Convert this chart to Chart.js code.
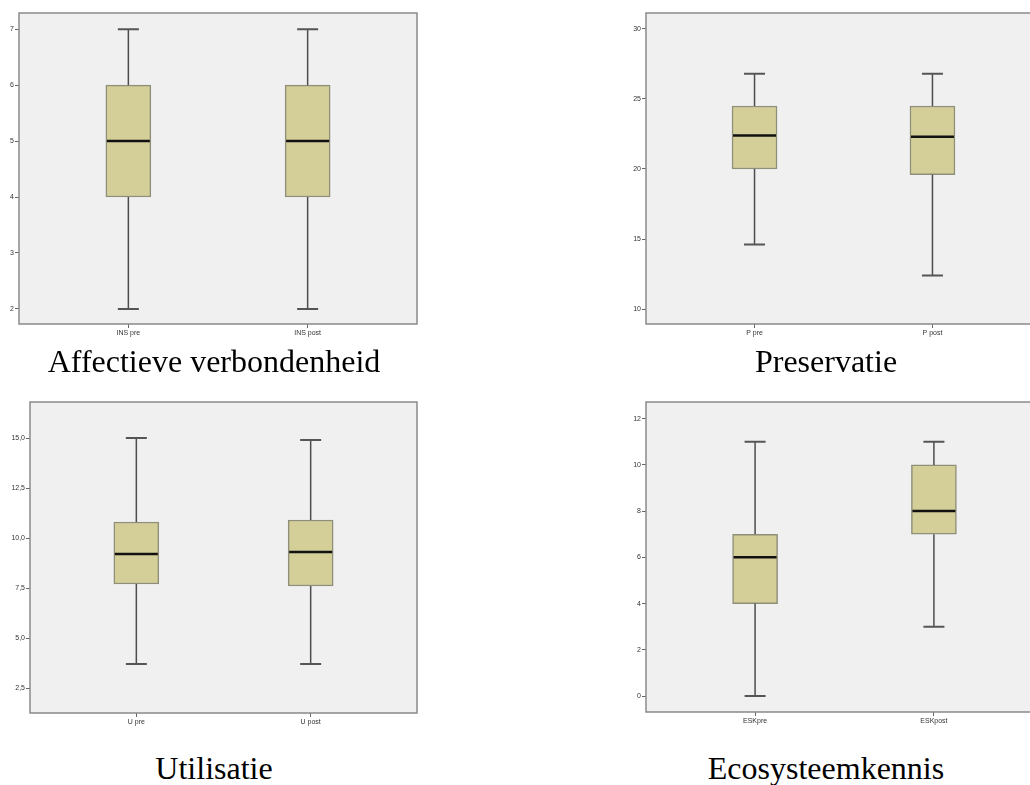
<!DOCTYPE html>
<html>
<head>
<meta charset="utf-8">
<script src="https://cdn.jsdelivr.net/npm/chart.js@4.4.1/dist/chart.umd.min.js"></script>
<style>
  html, body { margin: 0; padding: 0; background: #fff; overflow: hidden; }
  body { width: 1030px; height: 785px; position: relative; }
  canvas { position: absolute; }
  .caption {
    position: absolute;
    font-family: "Liberation Serif", "Times New Roman", serif;
    font-size: 32px;
    line-height: 32px;
    color: #000;
    white-space: nowrap;
    transform: translateX(-50%);
  }
</style>
</head>
<body>
<canvas id="chartIns"></canvas>
<canvas id="chartP"></canvas>
<canvas id="chartU"></canvas>
<canvas id="chartEsk"></canvas>
<div class="caption" style="left:214px; top:345px;">Affectieve verbondenheid</div>
<div class="caption" style="left:826px; top:345px;">Preservatie</div>
<div class="caption" style="left:214px; top:752px;">Utilisatie</div>
<div class="caption" style="left:826px; top:752px;">Ecosysteemkennis</div>

<script>
// Affectieve verbondenheid
const insCategories = ['INS pre', 'INS post'];
const insMin = [2, 2];
const insQ1 = [4, 4];
const insMedian = [5, 5];
const insQ3 = [6, 6];
const insMax = [7, 7];
const insTicks = [2, 3, 4, 5, 6, 7];
const insTickLabels = ['2', '3', '4', '5', '6', '7'];

// Preservatie
const pCategories = ['P pre', 'P post'];
const pMin = [14.6, 12.4];
const pQ1 = [20.0, 19.6];
const pMedian = [22.4, 22.3];
const pQ3 = [24.5, 24.5];
const pMax = [26.8, 26.8];
const pTicks = [10, 15, 20, 25, 30];
const pTickLabels = ['10', '15', '20', '25', '30'];

// Utilisatie
const uCategories = ['U pre', 'U post'];
const uMin = [3.7, 3.7];
const uQ1 = [7.7, 7.6];
const uMedian = [9.2, 9.3];
const uQ3 = [10.8, 10.9];
const uMax = [15.0, 14.9];
const uTicks = [2.5, 5, 7.5, 10, 12.5, 15];
const uTickLabels = ['2,5', '5,0', '7,5', '10,0', '12,5', '15,0'];

// Ecosysteemkennis
const eskCategories = ['ESKpre', 'ESKpost'];
const eskMin = [0, 3];
const eskQ1 = [4, 7];
const eskMedian = [6, 8];
const eskQ3 = [7, 10];
const eskMax = [11, 11];
const eskTicks = [0, 2, 4, 6, 8, 10, 12];
const eskTickLabels = ['0', '2', '4', '6', '8', '10', '12'];

const tickFont = { family: '"Liberation Sans", Arial, sans-serif', size: 7 };

// plot background + frame
const framePlugin = {
    id: 'frame',
    beforeDraw(chart) {
        const a = chart.chartArea;
        const ctx = chart.ctx;
        ctx.save();
        ctx.fillStyle = '#f0f0f0';
        ctx.fillRect(a.left, a.top, a.right - a.left, a.bottom - a.top);
        ctx.restore();
    },
    afterDraw(chart) {
        const a = chart.chartArea;
        const ctx = chart.ctx;
        ctx.save();
        ctx.strokeStyle = '#8a8a8a';
        ctx.lineWidth = 1.5;
        ctx.strokeRect(a.left, a.top, a.right - a.left, a.bottom - a.top);
        ctx.restore();
    }
};

// whiskers, caps and median lines
const whiskerPlugin = {
    id: 'whiskers',
    afterDatasetsDraw(chart) {
        const stats = chart.options.plugins.whiskers;
        const y = chart.scales.y;
        const meta = chart.getDatasetMeta(0);
        const ctx = chart.ctx;
        ctx.save();
        meta.data.forEach(function(bar, i) {
            const x = bar.x;
            const half = bar.width / 2;
            ctx.strokeStyle = '#4d4d4d';
            ctx.lineWidth = 1.5;
            ctx.beginPath();
            ctx.moveTo(x, y.getPixelForValue(stats.max[i]));
            ctx.lineTo(x, y.getPixelForValue(stats.q3[i]));
            ctx.moveTo(x, y.getPixelForValue(stats.q1[i]));
            ctx.lineTo(x, y.getPixelForValue(stats.min[i]));
            ctx.stroke();

            ctx.strokeStyle = '#555';
            ctx.lineWidth = 2;
            ctx.beginPath();
            ctx.moveTo(x - 10.5, y.getPixelForValue(stats.max[i]));
            ctx.lineTo(x + 10.5, y.getPixelForValue(stats.max[i]));
            ctx.moveTo(x - 10.5, y.getPixelForValue(stats.min[i]));
            ctx.lineTo(x + 10.5, y.getPixelForValue(stats.min[i]));
            ctx.stroke();

            ctx.strokeStyle = '#111';
            ctx.lineWidth = 2.5;
            ctx.beginPath();
            ctx.moveTo(x - half + 1, y.getPixelForValue(stats.median[i]));
            ctx.lineTo(x + half - 1, y.getPixelForValue(stats.median[i]));
            ctx.stroke();
        });
        ctx.restore();
    }
};

function makeBoxplot(id, cfg) {
    const canvas = document.getElementById(id);
    const w = cfg.frame.right - cfg.left + 2;
    const h = cfg.frame.bottom - cfg.top + 30;
    canvas.width = w;
    canvas.height = h;
    canvas.style.left = cfg.left + 'px';
    canvas.style.top = cfg.top + 'px';
    canvas.style.width = w + 'px';
    canvas.style.height = h + 'px';

    const boxes = cfg.categories.map(function(c, i) {
        return { x: i + 1, y: [cfg.q1[i], cfg.q3[i]] };
    });

    return new Chart(canvas, {
        type: 'bar',
        data: {
            datasets: [{
                data: boxes,
                backgroundColor: '#d4cf98',
                borderColor: '#8f8e78',
                borderWidth: 1.5,
                borderSkipped: false,
                barThickness: 45
            }]
        },
        options: {
            responsive: false,
            animation: false,
            devicePixelRatio: 1,
            layout: {
                padding: { top: cfg.frame.top - cfg.top, right: 2, left: 0, bottom: 0 }
            },
            scales: {
                x: {
                    type: 'linear',
                    offset: false,
                    min: 0.39,
                    max: 2.61,
                    afterFit: (scale) => { scale.height = 30; },
                    afterBuildTicks: (scale) => {
                        scale.ticks = cfg.categories.map((c, i) => ({ value: i + 1 }));
                    },
                    grid: {
                        offset: false,
                        drawOnChartArea: false,
                        drawTicks: true,
                        tickLength: 4,
                        tickColor: '#666',
                        lineWidth: 1
                    },
                    border: { display: false },
                    ticks: {
                        padding: 1,
                        color: '#333',
                        font: tickFont,
                        maxRotation: 0,
                        callback: (value, index) => cfg.categories[index]
                    }
                },
                y: {
                    min: cfg.yMin,
                    max: cfg.yMax,
                    afterFit: (scale) => { scale.width = cfg.frame.left - cfg.left; },
                    afterBuildTicks: (scale) => {
                        scale.ticks = cfg.ticks.map((v) => ({ value: v }));
                    },
                    grid: {
                        drawOnChartArea: false,
                        drawTicks: true,
                        tickLength: 4,
                        tickColor: '#666',
                        lineWidth: 1
                    },
                    border: { display: false },
                    ticks: {
                        padding: 1,
                        color: '#333',
                        font: tickFont,
                        callback: (value, index) => cfg.tickLabels[index]
                    }
                }
            },
            plugins: {
                legend: { display: false },
                tooltip: { enabled: false },
                whiskers: { min: cfg.min, median: cfg.median, max: cfg.max, q1: cfg.q1, q3: cfg.q3 }
            }
        },
        plugins: [framePlugin, whiskerPlugin]
    });
}

makeBoxplot('chartIns', {
    left: 0, top: 0,
    frame: { left: 19, top: 13, right: 417, bottom: 324 },
    yMin: 1.73, yMax: 7.29,
    categories: insCategories, min: insMin, q1: insQ1, median: insMedian, q3: insQ3, max: insMax,
    ticks: insTicks, tickLabels: insTickLabels
});

makeBoxplot('chartP', {
    left: 600, top: 0,
    frame: { left: 646, top: 13, right: 1041, bottom: 324 },
    yMin: 8.93, yMax: 31.14,
    categories: pCategories, min: pMin, q1: pQ1, median: pMedian, q3: pQ3, max: pMax,
    ticks: pTicks, tickLabels: pTickLabels
});

makeBoxplot('chartU', {
    left: 0, top: 390,
    frame: { left: 30, top: 402, right: 417, bottom: 713 },
    yMin: 1.25, yMax: 16.8,
    categories: uCategories, min: uMin, q1: uQ1, median: uMedian, q3: uQ3, max: uMax,
    ticks: uTicks, tickLabels: uTickLabels
});

makeBoxplot('chartEsk', {
    left: 600, top: 390,
    frame: { left: 646, top: 402, right: 1043, bottom: 712 },
    yMin: -0.69, yMax: 12.72,
    categories: eskCategories, min: eskMin, q1: eskQ1, median: eskMedian, q3: eskQ3, max: eskMax,
    ticks: eskTicks, tickLabels: eskTickLabels
});
</script>
</body>
</html>
